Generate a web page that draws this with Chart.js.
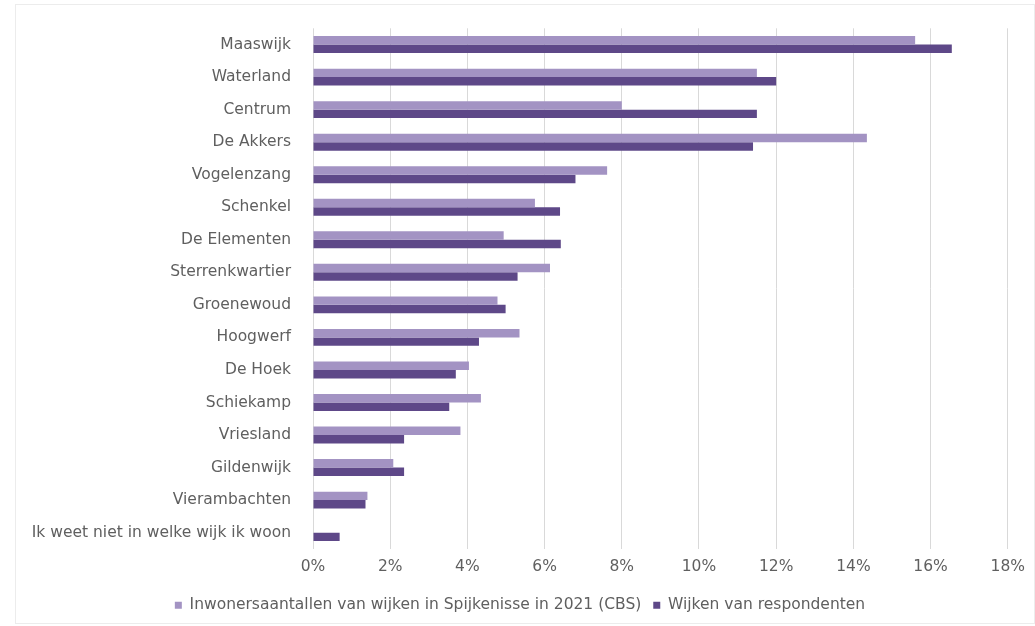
<!DOCTYPE html>
<html lang="nl">
  <head>
    <meta charset="UTF-8" />
    <title>Wijken Spijkenisse</title>
    <script src="https://cdn.jsdelivr.net/npm/chart.js@4.4.0/dist/chart.umd.min.js"></script>
    <style>
      html,
      body {
        margin: 0;
        padding: 0;
        background: #fff;
      }
      #wrap {
        position: absolute;
        left: 15px;
        top: 4px;
        width: 1018px;
        height: 618px;
        border: 1px solid #ececec;
      }
    </style>
  </head>
  <body>
    <div id="wrap">
      <canvas id="wijken"></canvas>
    </div>
    <script>
      const wijken = [
        'Maaswijk', 'Waterland', 'Centrum', 'De Akkers', 'Vogelenzang', 'Schenkel',
        'De Elementen', 'Sterrenkwartier', 'Groenewoud', 'Hoogwerf', 'De Hoek',
        'Schiekamp', 'Vriesland', 'Gildenwijk', 'Vierambachten',
        'Ik weet niet in welke wijk ik woon'
      ];
      const inwonersCBS = [15.6, 11.5, 8.0, 14.35, 7.62, 5.75, 4.94, 6.14, 4.78, 5.35, 4.04, 4.35, 3.82, 2.08, 1.41, 0];
      const respondenten = [16.55, 12.0, 11.5, 11.4, 6.8, 6.4, 6.42, 5.3, 4.99, 4.3, 3.7, 3.53, 2.36, 2.36, 1.36, 0.69];
      const xTicks = [0, 2, 4, 6, 8, 10, 12, 14, 16, 18];

      const textColor = '#5f5f5f';
      const font = { family: "'DejaVu Sans', sans-serif", size: 15.5 };

      new Chart(document.getElementById('wijken'), {
        type: 'bar',
        data: {
          labels: wijken,
          datasets: [
            {
              label: 'Inwonersaantallen van wijken in Spijkenisse in 2021 (CBS)',
              data: inwonersCBS,
              backgroundColor: '#a393c3',
              categoryPercentage: 0.52,
              barPercentage: 1.0,
            },
            {
              label: 'Wijken van respondenten',
              data: respondenten,
              backgroundColor: '#5e4888',
              categoryPercentage: 0.52,
              barPercentage: 1.0,
            },
          ],
        },
        options: {
          indexAxis: 'y',
          responsive: true,
          maintainAspectRatio: false,
          animation: false,
          layout: { padding: { top: 20, right: 10, bottom: 0, left: 0 } },
          plugins: {
            legend: {
              position: 'bottom',
              labels: {
                color: textColor,
                font: font,
                boxWidth: 7,
                boxHeight: 7,
                padding: 12,
              },
            },
            tooltip: { enabled: false },
          },
          scales: {
            x: {
              min: 0,
              max: 18,
              afterBuildTicks: (axis) => {
                axis.ticks = xTicks.map((v) => ({ value: v }));
              },
              ticks: {
                color: textColor,
                font: font,
                padding: 9,
                callback: (v) => v + '%',
              },
              grid: { color: '#d9d9d9', drawTicks: false },
              border: { display: false },
            },
            y: {
              afterFit: (axis) => {
                axis.width = 297;
              },
              ticks: {
                color: textColor,
                font: font,
                padding: 14,
              },
              grid: { display: false },
              border: { display: false },
            },
          },
        },
      });
    </script>
  </body>
</html>
